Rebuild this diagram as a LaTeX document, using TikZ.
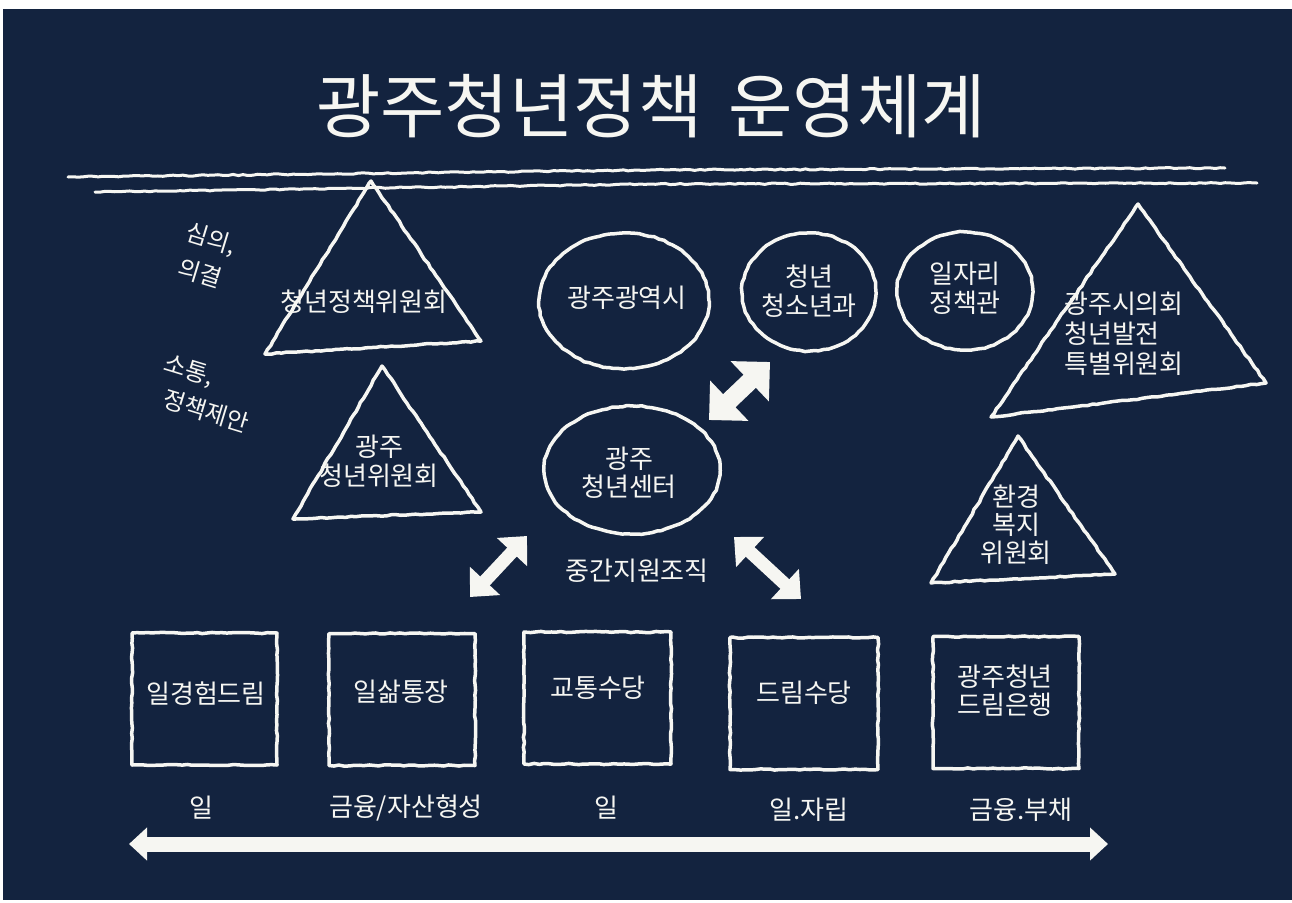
\documentclass[tikz,border=0pt]{standalone}
\usepackage{fontspec}
\setmainfont{Noto Sans CJK KR}
\newfontfamily\titlefont{Noto Sans CJK KR}
\newfontfamily\bodyfont{Noto Sans CJK KR}
\usetikzlibrary{shapes.geometric,arrows.meta,decorations.pathmorphing}
\definecolor{navy}{HTML}{13233F}
\definecolor{chalk}{HTML}{F6F6F2}
\pgfmathsetseed{7}
\begin{document}
\begin{tikzpicture}[x=1pt,y=-1pt,
  chalkline/.style={draw=chalk, line width=3.5pt, line join=round, line cap=round,
    decorate, decoration={random steps, segment length=5pt, amplitude=0.6pt}},
  lbl/.style={text=chalk, font=\bodyfont\fontsize{26}{29}\selectfont, align=center, inner sep=0pt},
  sidelbl/.style={text=chalk, font=\bodyfont\fontsize{24}{26}\selectfont, inner sep=0pt, rotate=-17},
  ovalnode/.style={shape=ellipse, chalkline, inner sep=0pt},
  boxnode/.style={shape=rectangle, chalkline, minimum width=#1, minimum height=132pt, inner sep=0pt},
  fatarrow/.style={draw=chalk, line width=18pt,
    {Triangle[width=54pt,length=28pt]}-{Triangle[width=54pt,length=28pt]}},
  midarrow/.style={draw=chalk, line width=13pt,
    {Triangle[width=40pt,length=22pt]}-{Triangle[width=40pt,length=22pt]}},
  longarrow/.style={draw=chalk, line width=15pt,
    {Triangle[width=32pt,length=18pt]}-{Triangle[width=32pt,length=18pt]}},
]
% background and margins
\fill[white] (0,0) rectangle (1292,902);
\fill[navy] (3,9) rectangle (1292,900);
\useasboundingbox (0,0) rectangle (1292,902);

% title
\node[text=chalk, font=\titlefont\fontsize{70}{70}\selectfont, inner sep=0pt] (title)
  at (651,106) {광주청년정책\hspace{26pt}운영체계};

% double rule under the title
\draw[chalkline, line width=3pt] (68,177) -- (650,170) -- (1225,168);
\draw[chalkline, line width=3pt] (95,192) -- (650,184) -- (1257,183);

% side labels
\node[sidelbl] (deliberate1) at (211,240) {심의,};
\node[sidelbl] (deliberate2) at (200,273) {의결};
\node[sidelbl] (communicate1) at (189,371) {소통,};
\node[sidelbl] (communicate2) at (206,411) {정책제안};

% triangles
\draw[chalkline] (371,181) -- (481,341) -- (265,354) -- cycle;
\node[lbl] (policycomm) at (364,302) {청년정책위원회};

\draw[chalkline] (382,366) -- (481,512) -- (293,519) -- cycle;
\node[lbl] (youthcomm) at (379,461) {광주\\청년위원회};

\draw[chalkline] (1138,204) -- (1266,383) -- (991,417) -- cycle;
\node[lbl, align=left, anchor=west, font=\bodyfont\fontsize{26}{30}\selectfont] (council)
  at (1064,334) {광주시의회\\청년발전\\특별위원회};

\draw[chalkline] (1018,436) -- (1115,574) -- (931,583) -- cycle;
\node[lbl, font=\bodyfont\fontsize{26}{28}\selectfont] (welfare) at (1016,525) {환경\\복지\\위원회};

% ellipses
\node[ovalnode, minimum width=170pt, minimum height=136pt] (city) at (624,301) {};
\node[lbl] (citytext) at (627,298) {광주광역시};
\node[ovalnode, minimum width=134pt, minimum height=118pt] (youthdiv) at (809,292) {};
\node[lbl] (youthdivtext) at (809,291) {청년\\청소년과};
\node[ovalnode, minimum width=136pt, minimum height=118pt] (jobs) at (965,291) {};
\node[lbl] (jobstext) at (965,288) {일자리\\정책관};
\node[ovalnode, minimum width=176pt, minimum height=128pt] (center) at (632,470) {};
\node[lbl, font=\bodyfont\fontsize{26}{28}\selectfont] (centertext) at (629,473) {광주\\청년센터};
\node[lbl] (midorg) at (637,571) {중간지원조직};

% arrows around the centre
\coordinate (a1s) at (709,420);
\coordinate (a1e) at (770,362);
\draw[fatarrow] (a1s) -- (a1e);
\coordinate (a2s) at (470,597);
\coordinate (a2e) at (527,536);
\draw[midarrow] (a2s) -- (a2e);
\coordinate (a3s) at (734,537);
\coordinate (a3e) at (801,599);
\draw[midarrow] (a3s) -- (a3e);

% programme boxes
\node[boxnode=145pt] (b1) at (204.5,699) {};
\node[boxnode=146pt] (b2) at (402,699.5) {};
\node[boxnode=147pt] (b3) at (597.5,698) {};
\node[boxnode=148pt] (b4) at (804,703.5) {};
\node[boxnode=146pt] (b5) at (1006,702.5) {};
\node[lbl] (b1t) at (206,694) {일경험드림};
\node[lbl] (b2t) at (401,692) {일삶통장};
\node[lbl] (b3t) at (598,688) {교통수당};
\node[lbl] (b4t) at (804,693) {드림수당};
\node[lbl, font=\bodyfont\fontsize{26}{28}\selectfont] (b5t) at (1005,691) {광주청년\\드림은행};

% category labels
\node[lbl] (c1) at (201,808) {일};
\node[lbl] (c2) at (406,808) {금융/자산형성};
\node[lbl] (c3) at (606,808) {일};
\node[lbl] (c4) at (809,810) {일.자립};
\node[lbl] (c5) at (1021,810) {금융.부채};

% long spectrum arrow
\coordinate (ls) at (129,844);
\coordinate (le) at (1108,844);
\draw[longarrow] (ls) -- (le);
\end{tikzpicture}
\end{document}
